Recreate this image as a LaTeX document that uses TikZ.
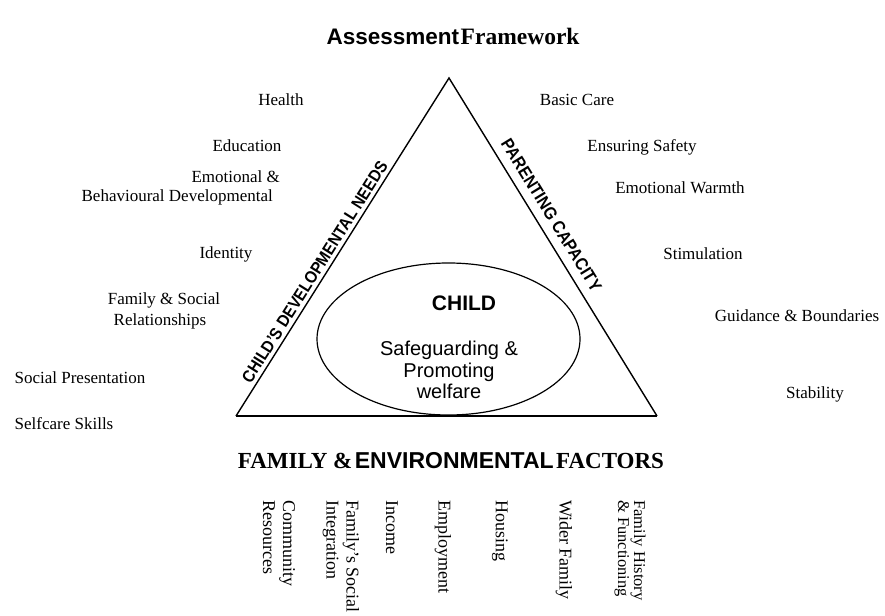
\documentclass[tikz,border=0pt]{standalone}
\usepackage{fontspec}
\setmainfont{Liberation Serif}
\setsansfont{Liberation Sans}
\usetikzlibrary{shapes.geometric}
\begin{document}
\begin{tikzpicture}[x=1pt,y=-1pt,
  lbl/.style={font=\fontsize{17}{20}\selectfont, inner sep=0pt},
  side/.style={font=\fontsize{17}{18}\sffamily\bfseries\selectfont, xscale=0.9, inner sep=1pt, sloped},
  vlbl/.style={font=\fontsize{18}{20}\selectfont, inner sep=0pt, rotate=-90, anchor=west, align=left},
  heavy/.style={line width=1.4pt}]
\useasboundingbox (0,0) rectangle (885,615);
% title
\node[inner sep=0pt] (title) at (453,36) {{\fontsize{22.5}{24}\sffamily\bfseries\selectfont Assessment}\,{\fontsize{23.5}{24}\bfseries\selectfont Framework}};
% triangle
\coordinate (A) at (449,78);
\coordinate (BL) at (236,416);
\coordinate (BR) at (657,416);
\draw[heavy] (BL) -- (A) -- (BR);
\draw[line width=2.4pt] (BL) -- (BR);
\path (BL) -- (A) node[side, above=3pt, pos=0.41] (cdn) {CHILD'S DEVELOPMENTAL NEEDS};
\path (A) -- (BR) node[side, font=\fontsize{17.5}{18}\sffamily\bfseries\selectfont, above=8pt, pos=0.43] (pc) {PARENTING CAPACITY};
% ellipse
\node[draw, line width=1.2pt, ellipse, minimum width=263pt, minimum height=152pt, inner sep=0pt] (ell) at (448.5,339) {};
\node[inner sep=0pt, font=\fontsize{21}{24}\sffamily\bfseries\selectfont] (child) at (464,303) {CHILD};
\node[inner sep=0pt, align=center, font=\fontsize{20}{21.5}\sffamily\selectfont] (sp) at (449,370) {Safeguarding \&\\Promoting\\welfare};
% left labels
\node[lbl] (health) at (281,100) {Health};
\node[lbl] (edu) at (247,146) {Education};
\node[lbl, anchor=east] (emo1) at (280,177) {Emotional \&};
\node[lbl, anchor=east] (emo2) at (273,197) {Behavioural Developmental};
\node[lbl] (ident) at (226,254) {Identity};
\node[lbl] (fam1) at (164,300) {Family \& Social};
\node[lbl] (fam2) at (160,321) {Relationships};
\node[lbl] (socp) at (80,378) {Social Presentation};
\node[lbl] (self) at (64,424) {Selfcare Skills};
% right labels
\node[lbl] (basic) at (577,100) {Basic Care};
\node[lbl] (safe) at (642,147) {Ensuring Safety};
\node[lbl] (warm) at (680,188) {Emotional Warmth};
\node[lbl] (stim) at (703,254) {Stimulation};
\node[lbl] (guid) at (797,316) {Guidance \& Boundaries};
\node[lbl] (stab) at (815,394) {Stability};
% bottom heading
\node[inner sep=0pt] (fef) at (451,461) {{\fontsize{23}{26}\bfseries\selectfont FAMILY \&} {\fontsize{23}{26}\sffamily\bfseries\selectfont ENVIRONMENTAL} {\fontsize{23}{26}\bfseries\selectfont FACTORS}};
% bottom vertical labels
\node[vlbl] (comm) at (279,500) {Community\\Resources};
\node[vlbl] (fsi) at (341,500) {Family's Social\\Integration};
\node[vlbl] (inc) at (392,500) {Income};
\node[vlbl] (emp) at (443,500) {Employment};
\node[vlbl] (hous) at (500,500) {Housing};
\node[vlbl] (wider) at (564,500) {Wider Family};
\node[vlbl, font=\fontsize{16.5}{16}\selectfont] (fhf) at (630,500) {Family History\\\& Functioning};
\end{tikzpicture}
\end{document}
